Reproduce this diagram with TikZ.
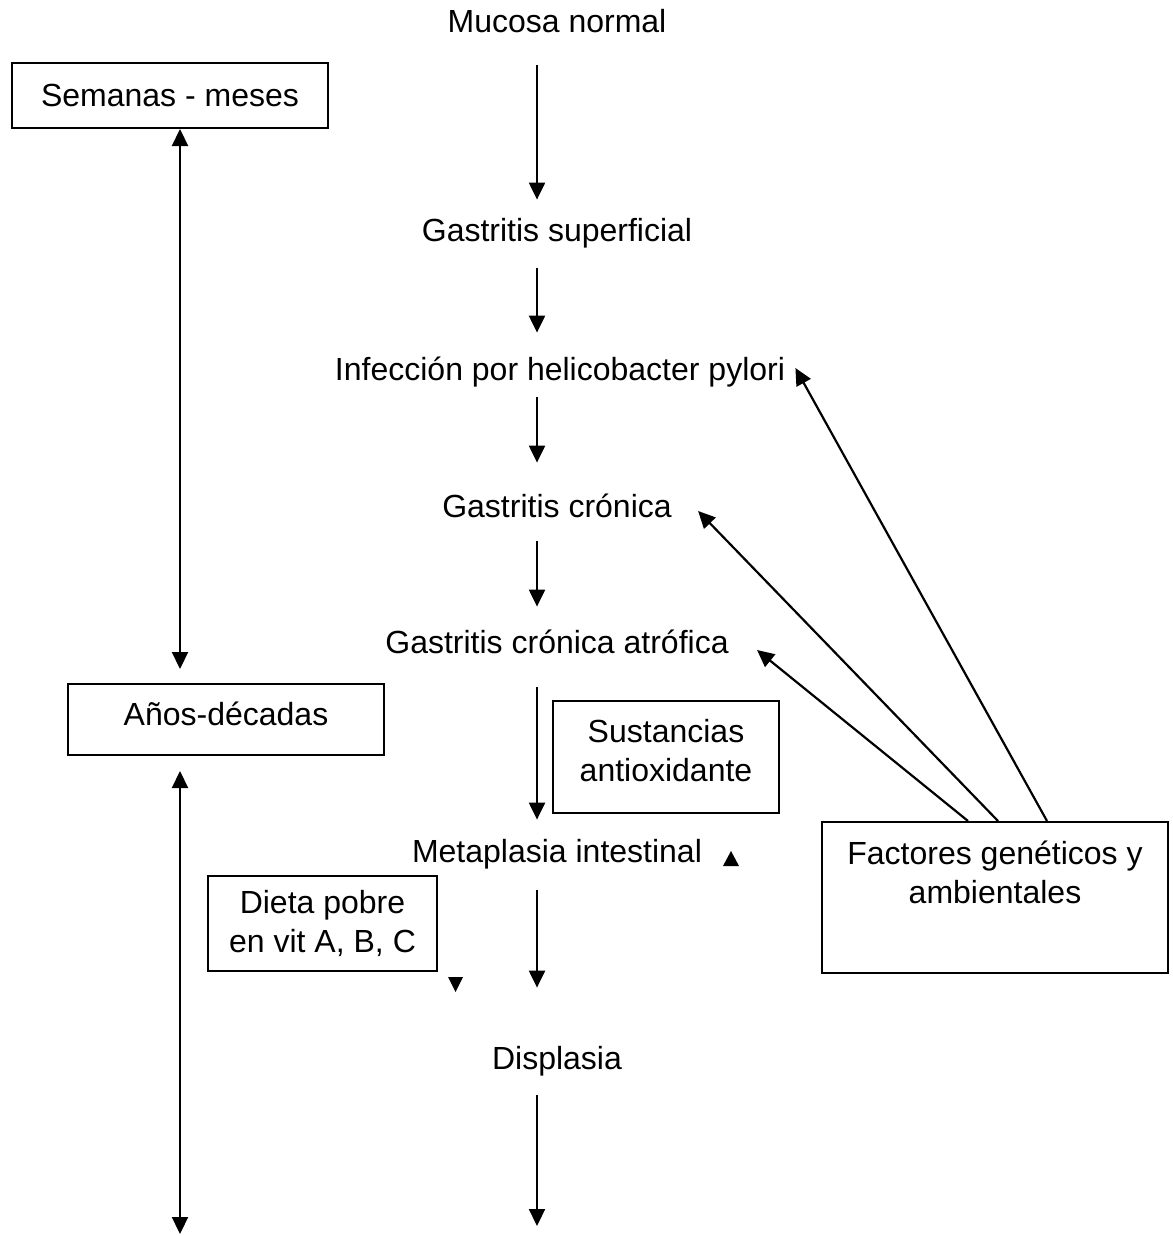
\documentclass[tikz,border=0pt]{standalone}
\usepackage{fontspec}
\setmainfont{Liberation Sans}
\usetikzlibrary{calc,arrows.meta}

\begin{document}
\begin{tikzpicture}[x=0.5pt,y=0.5pt,yscale=-1,xscale=1,
  every node/.style={font=\fontsize{16}{19.5}\selectfont},
  stage/.style={inner sep=0pt,text height=12pt,text depth=1pt},
  note/.style={draw,line width=1pt,align=center,inner sep=0pt},
  flow/.style={-{Triangle[length=8.5pt,width=8pt]},line width=1.1pt},
  span/.style={{Triangle[length=8.5pt,width=8pt]}-{Triangle[length=8.5pt,width=8pt]},line width=1.1pt}]
\useasboundingbox (0,0) rectangle (1172,1236);

% Text Node
\node[stage] (mucosa) at (557,22) {Mucosa normal};
% Text Node
\node[stage] (superf) at (557,230) {Gastritis superficial};
% Text Node
\node[stage] (hpylori) at (560,369) {Infección por helicobacter pylori};
% Text Node
\node[stage] (cronica) at (557,506) {Gastritis crónica};
% Text Node
\node[stage] (atrofica) at (557,642) {Gastritis crónica atrófica};
% Text Node
\node[stage] (metapl) at (557,851) {Metaplasia intestinal};
% Text Node
\node[stage] (displ) at (557,1058) {Displasia};

%Shape: Rectangle
\node[note,minimum width=158pt,minimum height=32.5pt] (semanas) at (170,95.5) {Semanas - meses};
%Shape: Rectangle
\node[note,minimum width=158pt,minimum height=35.5pt,text depth=5.5pt] (anos) at (226,719.5) {Años-décadas};
%Shape: Rectangle
\node[note,minimum width=114.5pt,minimum height=47.5pt] (dieta) at (322.5,923.5) {Dieta pobre\\en vit A, B, C};
%Shape: Rectangle
\node[note,minimum width=113pt,minimum height=56pt] (antiox) at (666,757) {Sustancias\\antioxidante\\[-12.5pt]\mbox{}};
%Shape: Rectangle
\node[note,minimum width=173pt,minimum height=75.5pt] (factores) at (995,897.5) {Factores genéticos y\\ambientales\\[5.5pt]\mbox{}};

\coordinate (spine) at (537,0);
\coordinate (spineend) at (537,1226);
\coordinate (leftaxis) at (180,0);
\coordinate (leftend) at (180,1234);

%Straight Lines
\draw[flow,shorten <=15pt,shorten >=8.5pt] (mucosa.south -| spine) -- (superf.north -| spine);
\draw[flow,shorten <=12.5pt,shorten >=11.5pt] (superf.south -| spine) -- (hpylori.north -| spine);
\draw[flow,shorten <=7.5pt,shorten >=15pt] (hpylori.south -| spine) -- (cronica.north -| spine);
\draw[flow,shorten <=11pt,shorten >=11pt] (cronica.south -| spine) -- (atrofica.north -| spine);
\draw[flow,shorten <=16pt,shorten >=9pt] (atrofica.south -| spine) -- (metapl.north -| spine);
\draw[flow,shorten <=13pt,shorten >=28.5pt] (metapl.south -| spine) -- (displ.north -| spine);
\draw[flow,shorten <=12pt] (displ.south -| spine) -- (spineend);

%Straight Lines
\draw[span,shorten >=7pt] (semanas.south -| leftaxis) -- (anos.north -| leftaxis);
\draw[span,shorten <=7.5pt] (anos.south -| leftaxis) -- (leftend);

%Straight Lines
\draw[flow] ($(factores.north)+(-27,0)$) -- ($(atrofica.east)+(28,8)$);
\draw[flow] ($(factores.north)+(3,0)$) -- ($(cronica.east)+(26,5)$);
\draw[flow] ($(factores.north)+(52,0)$) -- ($(hpylori.east)+(10,-1)$);

%Shape: Triangle
\fill (723,866) -- (739,866) -- (731,851) -- cycle;
\fill (448,977) -- (463,977) -- (455.5,992) -- cycle;

\end{tikzpicture}
\end{document}
